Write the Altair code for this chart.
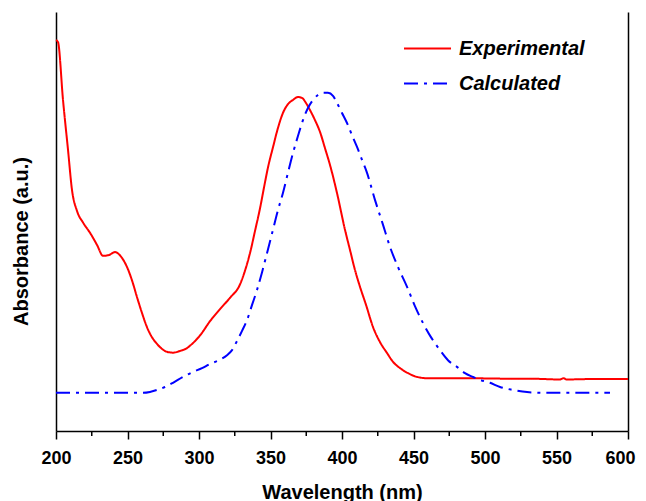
import altair as alt
import pandas as pd

# Experimental spectrum (wavelength nm, absorbance a.u.)
exp_nm = [200.0, 201.4, 204.9, 208.4, 211.2, 214.7, 219.0, 223.8, 228.7, 232.9, 237.0, 241.3,
          245.5, 249.7, 253.1, 256.6, 260.1, 263.6, 267.1, 270.6, 274.1, 277.6, 281.8, 286.7,
          291.6, 295.8, 300.7, 307.7, 314.7, 321.7, 328.7, 332.2, 335.7, 339.2, 342.7, 345.5,
          348.3, 351.8, 355.2, 358.7, 362.2, 365.7, 369.2, 372.0, 374.8, 377.6, 381.1, 384.6,
          388.1, 391.6, 396.5, 402.1, 405.6, 409.1, 412.6, 416.8, 421.7, 426.6, 431.5, 435.7,
          440.6, 446.2, 452.5, 459.4, 468.5, 490.0, 510.5, 530.0, 552.4, 555.0, 557.0, 575.0,
          590.0, 600.0]
exp_abs = [0.933, 0.928, 0.790, 0.671, 0.575, 0.525, 0.497, 0.473, 0.444, 0.418, 0.420, 0.427,
           0.416, 0.391, 0.360, 0.320, 0.282, 0.248, 0.224, 0.208, 0.196, 0.189, 0.187, 0.191,
           0.198, 0.210, 0.228, 0.262, 0.291, 0.318, 0.350, 0.383, 0.425, 0.478, 0.532, 0.582,
           0.630, 0.678, 0.723, 0.759, 0.780, 0.790, 0.797, 0.795, 0.783, 0.766, 0.742, 0.714,
           0.675, 0.635, 0.568, 0.480, 0.432, 0.384, 0.344, 0.301, 0.248, 0.212, 0.186, 0.165,
           0.150, 0.138, 0.129, 0.126, 0.126, 0.126, 0.125, 0.125, 0.123, 0.126, 0.123, 0.124,
           0.124, 0.124]

# Calculated spectrum
calc_nm = [200.0, 230.0, 260.8, 265.7, 270.6, 276.2, 281.8, 288.8, 295.8, 302.1, 307.7, 314.0,
           319.6, 323.1, 326.6, 330.1, 333.6, 337.1, 340.6, 344.1, 347.6, 351.7, 355.2, 358.7,
           362.2, 365.7, 369.2, 372.7, 376.2, 379.7, 383.2, 386.7, 390.2, 393.7, 396.5, 400.0,
           403.5, 407.0, 410.5, 414.0, 417.5, 423.1, 428.7, 433.6, 439.2, 445.5, 451.0, 456.6,
           462.2, 468.5, 474.1, 480.4, 486.0, 491.6, 496.5, 503.5, 510.5, 519.6, 529.4, 542.0,
           554.6, 587.4]
calc_abs = [0.091, 0.091, 0.091, 0.093, 0.098, 0.105, 0.115, 0.129, 0.141, 0.150, 0.160, 0.169,
            0.181, 0.193, 0.215, 0.239, 0.265, 0.301, 0.337, 0.379, 0.425, 0.480, 0.527, 0.568,
            0.616, 0.663, 0.704, 0.742, 0.771, 0.790, 0.802, 0.807, 0.807, 0.800, 0.783, 0.759,
            0.735, 0.706, 0.678, 0.647, 0.616, 0.551, 0.492, 0.439, 0.391, 0.344, 0.298, 0.258,
            0.224, 0.193, 0.169, 0.153, 0.138, 0.129, 0.122, 0.115, 0.105, 0.098, 0.093, 0.091,
            0.091, 0.091]

series_names = ["Experimental", "Calculated"]
series_colors = ["#ff0000", "#0000ff"]
series_dashes = [[1, 0], [14, 6, 3, 6]]
major_ticks = list(range(200, 601, 50))
minor_ticks = list(range(225, 600, 50))

df = pd.concat([
    pd.DataFrame({"nm": exp_nm, "abs": exp_abs, "series": series_names[0]}),
    pd.DataFrame({"nm": calc_nm, "abs": calc_abs, "series": series_names[1]}),
], ignore_index=True)
minor_df = pd.DataFrame({"nm": minor_ticks})

FONT = "Liberation Sans"
PLOT_W, PLOT_H = 572, 419

x_scale = alt.Scale(domain=[200, 600], nice=False, zero=False)
y_scale = alt.Scale(domain=[0, 1], nice=False, zero=False)

x_axis = alt.Axis(
    orient="bottom", values=major_ticks, tickSize=8,
    tickColor="black", tickWidth=1.5,
    domainColor="black", domainWidth=1.5,
    labelFont=FONT, labelFontSize=18, labelFontWeight="bold", labelColor="black",
    labelPadding=10, labelFlush=False,
    labelOffset={"condition": {"test": "datum.value === 600", "value": -8}, "value": 0},
    title="Wavelength (nm)", titleFont=FONT, titleFontSize=20, titleFontWeight="bold",
    titleColor="black", titleY=61, titleBaseline="middle",
    grid=False,
)

lines = alt.Chart(df).mark_line(strokeWidth=2, interpolate="monotone").encode(
    x=alt.X("nm:Q", scale=x_scale, axis=x_axis),
    y=alt.Y("abs:Q", scale=y_scale, axis=alt.Axis(
        orient="left", ticks=False, labels=False, grid=False,
        domainColor="black", domainWidth=1.5,
        title="Absorbance (a.u.)", titleFont=FONT, titleFontSize=20, titleFontWeight="bold",
        titleColor="black", titleAngle=270, titleX=-35, titleY=229,
        titleBaseline="middle", titleAlign="center")),
    color=alt.Color("series:N", scale=alt.Scale(domain=series_names, range=series_colors),
                    legend=alt.Legend(title=None)),
    strokeDash=alt.StrokeDash("series:N", scale=alt.Scale(domain=series_names, range=series_dashes),
                              legend=alt.Legend(title=None)),
    detail="series:N",
)

frame = alt.Chart(df).mark_point(opacity=0).encode(
    x=alt.X("nm:Q", scale=x_scale, axis=x_axis),
    y=alt.Y("abs:Q", scale=y_scale, axis=alt.Axis(
        orient="right", ticks=False, labels=False, grid=False, title=None,
        domainColor="black", domainWidth=1.5)),
)

minor = alt.Chart(minor_df).mark_rule(color="black", strokeWidth=1.5).encode(
    x=alt.X("nm:Q", scale=x_scale, axis=x_axis),
    y=alt.value(PLOT_H),
    y2=alt.value(PLOT_H + 5),
)

chart = alt.layer(lines, frame, minor).properties(
    width=PLOT_W, height=PLOT_H,
    padding={"left": 48, "top": 4, "right": 10, "bottom": 70},
    autosize=alt.AutoSizeParams(type="none"),
).configure_view(stroke=None).configure_legend(
    orient="none", legendX=347, legendY=12,
    symbolType="stroke", symbolSize=2209, symbolStrokeWidth=2,
    labelFont=FONT, labelFontSize=20, labelFontStyle="italic", labelFontWeight="bold",
    labelColor="black", labelOffset=7, rowPadding=-10,
)

chart.save("out.html", embed_options={"renderer": "svg", "actions": False})
